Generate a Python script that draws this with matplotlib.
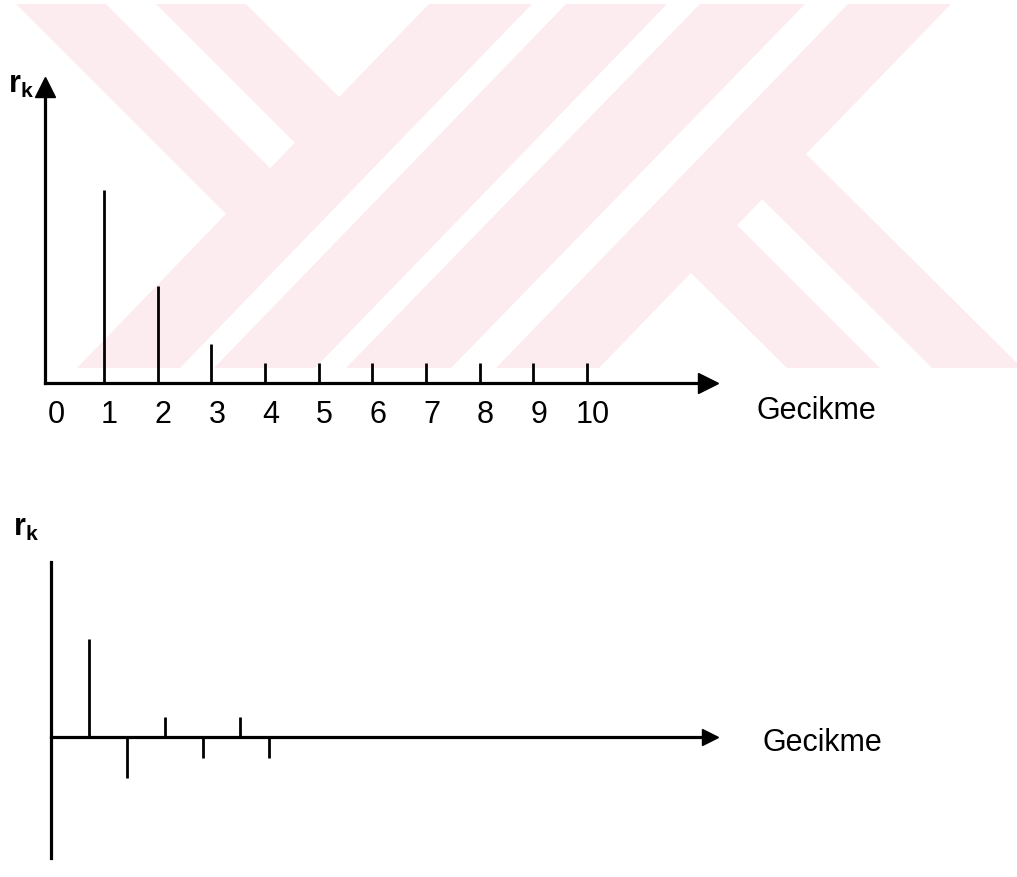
import matplotlib
matplotlib.use("Agg")
import matplotlib.pyplot as plt
from matplotlib.patches import Polygon
from matplotlib.transforms import ScaledTranslation

plt.rcParams["font.family"] = ["Liberation Sans", "DejaVu Sans"]
plt.rcParams["mathtext.fontset"] = "custom"
plt.rcParams["mathtext.rm"] = "Liberation Sans"
plt.rcParams["mathtext.bf"] = "Liberation Sans:bold"

# upper chart: autocorrelations for lags 1..10
lags_top = [1, 2, 3, 4, 5, 6, 7, 8, 9, 10]
r_top = [0.651, 0.328, 0.131, 0.066, 0.066, 0.066, 0.066, 0.066, 0.066, 0.066]
tick_labels = ["0", "1", "2", "3", "4", "5", "6", "7", "8", "9", "10"]

# lower chart: alternating autocorrelations
lags_bot = [1.0, 1.99, 3.0, 3.99, 4.95, 5.70]
r_bot = [0.56, -0.233, 0.114, -0.118, 0.114, -0.118]

x_label = "Gecikme"
y_label = r"$\mathbf{r_k}$"

W, H = 1017, 877
fig = plt.figure(figsize=(W / 100, H / 100), dpi=100)


def px_axes(x0, y0, x1, y1):
    return fig.add_axes([x0 / W, 1 - y1 / H, (x1 - x0) / W, (y1 - y0) / H])


# background layer in pixel coords (watermark + free text)
bg = fig.add_axes([0, 0, 1, 1], zorder=0)
bg.set_xlim(0, W)
bg.set_ylim(H, 0)
bg.axis("off")

pink = "#fcecef"
watermark = [
    [(16, 4), (106, 4), (271, 169), (226, 214)],
    [(156, 4), (246, 4), (341, 99), (296, 144)],
    [(429, 4), (532, 4), (180, 368), (77, 368)],
    [(566, 4), (667, 4), (315, 368), (214, 368)],
    [(700, 4), (805, 4), (451, 368), (346, 368)],
    [(848, 4), (951, 4), (599, 368), (496, 368)],
    [(690, 272), (737, 225), (880, 368), (787, 368)],
    [(762, 199), (806, 154), (1022, 368), (932, 368)],
]
for pts in watermark:
    bg.add_patch(Polygon(pts, closed=True, facecolor=pink, edgecolor="none"))

bg.text(8, 85, y_label, fontsize=22, va="center", ha="left")
bg.text(13, 528, y_label, fontsize=22, va="center", ha="left")
bg.text(756, 411, x_label, fontsize=22, va="center", ha="left")
bg.text(762, 743, x_label, fontsize=22, va="center", ha="left")

# ---- upper chart ----
ax1 = px_axes(45, 86.5, 708, 383)
ax1.set_zorder(1)
ax1.patch.set_visible(False)
ax1.vlines(lags_top, 0, r_top, color="black", linewidth=2.0)
ax1.set_xlim(-0.1, 12.253)
ax1.set_ylim(0, 1)
for s in ["top", "right"]:
    ax1.spines[s].set_visible(False)
for s in ["left", "bottom"]:
    ax1.spines[s].set_linewidth(2.3)
ax1.set_yticks([])
ax1.set_xticks(range(len(tick_labels)))
ax1.set_xticklabels(tick_labels, fontsize=22)
ax1.tick_params(axis="x", length=0, pad=12)
shift = ScaledTranslation(4 / 72, 0, fig.dpi_scale_trans)
for lab in ax1.get_xticklabels():
    lab.set_transform(lab.get_transform() + shift)
ax1.plot(1, 0, ">", color="black", ms=14.4, transform=ax1.transAxes, clip_on=False)
ax1.plot(0, 1, "^", color="black", ms=14.4, transform=ax1.transAxes, clip_on=False)

# ---- lower chart ----
ax2 = px_axes(50.5, 562, 710, 858)
ax2.set_zorder(1)
ax2.patch.set_visible(False)
ax2.vlines(lags_bot, 0, r_bot, color="black", linewidth=2.0)
ax2.set_xlim(0, 17.22)
ax2.set_ylim(-0.691, 1.0)
for s in ["top", "right"]:
    ax2.spines[s].set_visible(False)
ax2.spines["bottom"].set_position(("data", 0))
for s in ["left", "bottom"]:
    ax2.spines[s].set_linewidth(2.3)
ax2.set_xticks([])
ax2.set_yticks([])
ax2.plot(1, 0, ">", color="black", ms=12, transform=ax2.get_yaxis_transform(), clip_on=False)

fig.savefig("out.png", dpi=100)
